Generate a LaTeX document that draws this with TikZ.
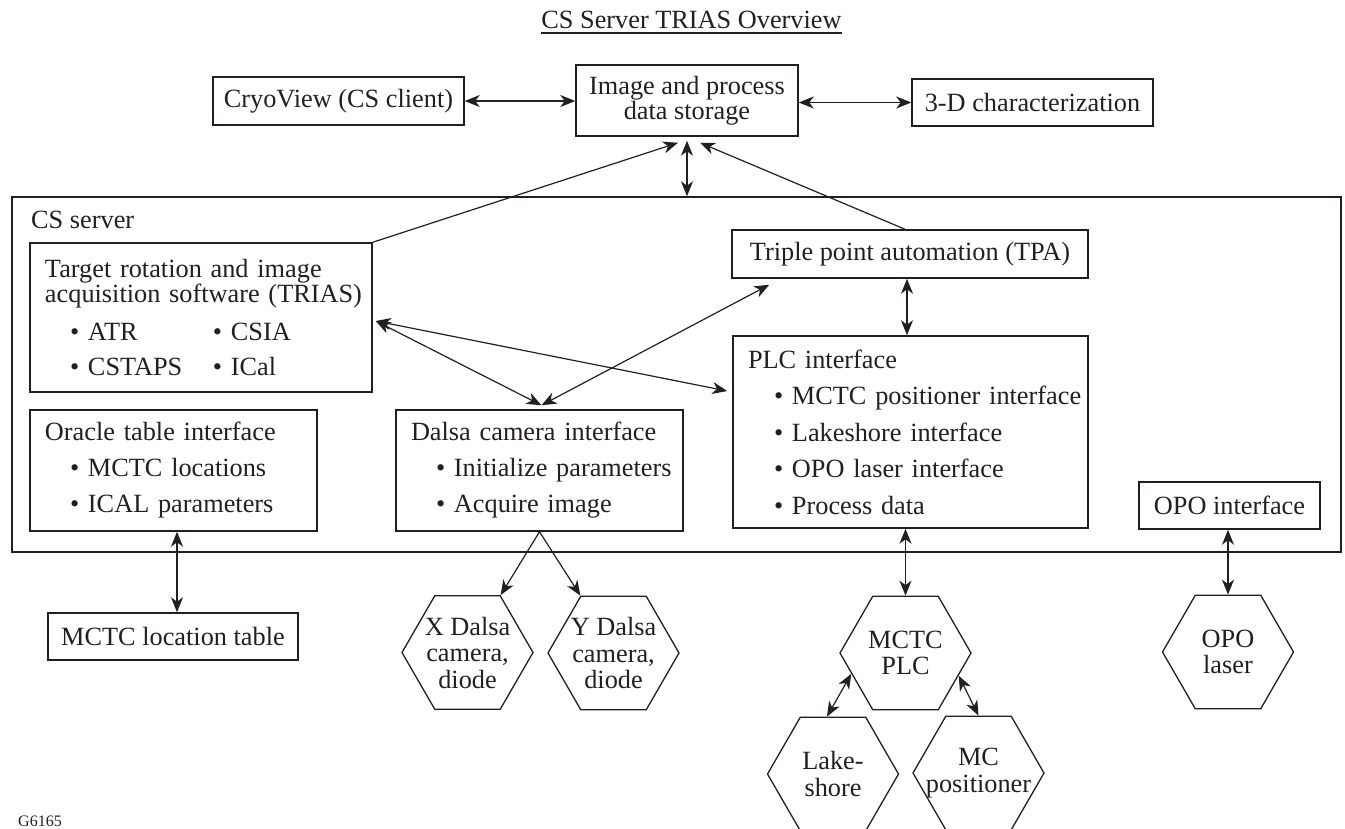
\documentclass[tikz,border=0pt]{standalone}
\usepackage{fontspec}
\setmainfont{Liberation Serif}
\usetikzlibrary{arrows.meta,calc,shapes.geometric}
\definecolor{ink}{RGB}{35,31,32}
\newcommand{\bl}[2]{\mbox{\hspace*{#1}\textbullet\ #2}}
\begin{document}
\begin{tikzpicture}[x=1pt,y=-1pt,
  every node/.style={text=ink, font=\fontsize{26.3}{25}\selectfont},
  bx/.style={draw=ink, line width=1.5pt, rectangle, inner sep=0pt},
  lbox/.style={bx, align=left, inner xsep=15pt, inner ysep=0pt},
  hexa/.style={draw=ink, line width=1.3pt, regular polygon, regular polygon sides=6,
    minimum size=131pt, inner sep=0pt},
  hextext/.style={align=center, inner sep=0pt, font=\fontsize{26.3}{26.5}\selectfont},
  ahead/.tip={Stealth[length=15pt,width=12pt,inset=4.5pt]},
  twoway/.style={draw=ink, line width=1.2pt, {ahead}-{ahead}},
  oneway/.style={draw=ink, line width=1.2pt, -{ahead}}]
\useasboundingbox (0,0) rectangle (1345,828);

% title
\node[anchor=base, inner sep=0pt] (title) at (691.5,28) {CS Server TRIAS Overview};
\draw[draw=ink, line width=1.3pt] ($(title.base west)+(0,5)$) -- ($(title.base east)+(0,5)$);

% top row
\node[bx, minimum width=251pt, minimum height=48pt] (cryo) at (338.5,101) {CryoView (CS client)};
\node[bx, minimum width=222pt, minimum height=71pt, align=center,
      font=\fontsize{26.3}{23}\selectfont] (store) at (687,100.5) {Image and process\\data storage};
\node[bx, minimum width=241pt, minimum height=47pt] (threed) at (1032.5,102.5) {3-D characterization};

% CS server container
\node[bx, minimum width=1329pt, minimum height=355pt] (cs) at (676.5,374.5) {};
\node[anchor=base west, inner sep=0pt] (cslabel) at (31,228) {CS server};

% inner boxes
\node[lbox, text width=312pt, minimum height=149pt] (trias) at (201,317.5)
  {\mbox{Target rotation and image}\\
   \mbox{acquisition software (TRIAS)}\\[13pt]
   \mbox{\hspace*{25pt}\makebox[143pt][l]{\textbullet\ ATR}\textbullet\ CSIA}\\[10pt]
   \mbox{\hspace*{25pt}\makebox[143pt][l]{\textbullet\ CSTAPS}\textbullet\ ICal}};
\node[lbox, text width=257pt, minimum height=121pt] (oracle) at (173.5,470.5)
  {\mbox{Oracle table interface}\\[11pt]
   \bl{25pt}{MCTC locations}\\[11pt]
   \bl{25pt}{ICAL parameters}};
\node[lbox, text width=257pt, minimum height=121pt] (dalsa) at (539.5,470.5)
  {\mbox{Dalsa camera interface}\\[11pt]
   \bl{25pt}{Initialize parameters}\\[11pt]
   \bl{25pt}{Acquire image}};
\node[bx, minimum width=356pt, minimum height=48pt] (tpa) at (910,254) {Triple point automation (TPA)};
\node[lbox, text width=325pt, minimum height=192pt] (plc) at (910.5,432)
  {\mbox{PLC interface}\\[11.5pt]
   \bl{26pt}{MCTC positioner interface}\\[11.5pt]
   \bl{26pt}{Lakeshore interface}\\[11.5pt]
   \bl{26pt}{OPO laser interface}\\[11.5pt]
   \bl{26pt}{Process data}};
\node[bx, minimum width=181pt, minimum height=47pt] (opoi) at (1229.5,505.5) {OPO interface};

% outside
\node[bx, minimum width=250pt, minimum height=47pt] (table) at (173,636.5) {MCTC location table};
\node[hexa, label={[hextext]center:{X Dalsa\\camera,\\diode}}] (xd) at (467.5,652.5) {};
\node[hexa, label={[hextext]center:{Y Dalsa\\camera,\\diode}}] (yd) at (613.5,653) {};
\node[hexa, label={[hextext]center:{MCTC\\PLC}}] (mctc) at (905.5,653) {};
\node[hexa, label={[hextext]center:{OPO\\laser}}] (opo) at (1228,652) {};
\node[hexa, label={[hextext]center:{Lake-\\shore}}] (lake) at (833,774) {};
\node[hexa, label={[hextext]center:{MC\\positioner}}] (mcp) at (978.5,773) {};

\node[anchor=base west, inner sep=0pt, font=\fontsize{16}{16}\selectfont] (gid) at (18,826) {G6165};

% connectors
\draw[twoway] (cryo.east) -- (store.west |- cryo.east);
\draw[twoway] (store.east |- threed.west) -- (threed.west);
\draw[twoway] ($(store.south)+(0,4)$) -- (store.south |- cs.north);
\draw[oneway] (trias.north east) -- ($(store.south)+(-9,6)$);
\draw[oneway] ($(tpa.north)+(-5,0)$) -- ($(store.south)+(13,6)$);

\draw[twoway] ($(trias.east)+(3,3.5)$) -- ($(plc.west)+(-5,-41)$);
\draw[twoway] ($(trias.east)+(3,3.5)$) -- ($(dalsa.north)+(2,-4)$);
\draw[twoway] ($(tpa.south west)+(38,6)$) -- ($(dalsa.north)+(2,-4)$);
\draw[twoway] ($(tpa.south)+(-3,0)$) -- ($(plc.north)+(-3.5,0)$);

\draw[twoway] ($(oracle.south)+(3.5,0)$) -- ($(table.north)+(4,0)$);
\draw[oneway] (dalsa.south) -- (xd.60);
\draw[oneway] (dalsa.south) -- (yd.120);
\draw[twoway] (mctc.90 |- plc.south) -- (mctc.90);
\draw[twoway] (opo.90 |- opoi.south) -- (opo.90);
\draw[twoway] (mctc.201) -- (lake.96);
\draw[twoway] (mctc.-23) -- (mcp.90);
\end{tikzpicture}
\end{document}
